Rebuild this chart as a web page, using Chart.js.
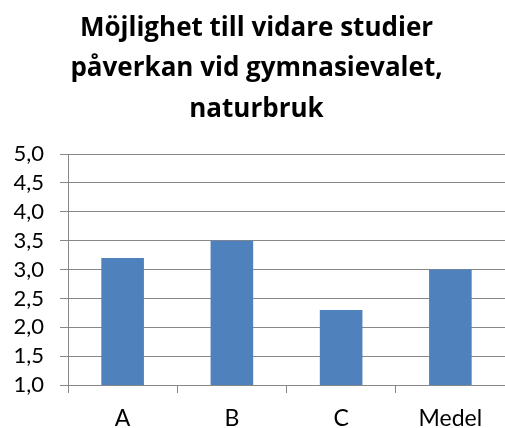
<!DOCTYPE html>
<html lang="sv">
<head>
  <meta charset="UTF-8">
  <title>Möjlighet till vidare studier</title>
  <script src="https://cdn.jsdelivr.net/npm/chart.js"></script>
  <style>
    body { margin: 0; background: #fff; }
    .wrap { width: 505px; height: 428px; }
  </style>
</head>
<body>
  <div class="wrap"><canvas id="chart"></canvas></div>
  <script>
    // data
    const categories = ['A', 'B', 'C', 'Medel'];
    const values = [3.2, 3.5, 2.3, 3.0];
    const titleLines = ['Möjlighet till vidare studier', 'påverkan vid gymnasievalet,', 'naturbruk'];

    const font = 'Lato, "Open Sans", sans-serif';

    new Chart(document.getElementById('chart'), {
      type: 'bar',
      data: {
        labels: categories,
        datasets: [{
          data: values,
          backgroundColor: '#4f81bd',
          barPercentage: 0.39,
          categoryPercentage: 1
        }]
      },
      options: {
        responsive: true,
        maintainAspectRatio: false,
        animation: false,
        layout: { padding: { left: 8, right: 0, top: 9, bottom: 0 } },
        plugins: {
          legend: { display: false },
          tooltip: { enabled: false },
          title: {
            display: true,
            text: titleLines,
            color: '#000',
            font: { family: '"Open Sans", sans-serif', size: 26, weight: 'bold', lineHeight: 1.54 },
            padding: { top: 0, bottom: 25 }
          }
        },
        scales: {
          x: {
            afterFit: s => { s.height = 43; },
            grid: { drawOnChartArea: false, drawTicks: true, tickLength: 8, color: '#878787' },
            border: { color: '#878787', width: 1 },
            ticks: { color: '#000', font: { family: font, size: 23 }, padding: 12 }
          },
          y: {
            min: 1,
            max: 5,
            afterFit: s => { s.width = 60; },
            grid: { color: '#878787', tickLength: 8 },
            border: { color: '#878787' },
            ticks: {
              stepSize: 0.5,
              autoSkip: false,
              color: '#000',
              font: { family: font, size: 22 },
              padding: 16,
              callback: v => v.toFixed(1).replace('.', ',')
            }
          }
        }
      }
    });
  </script>
</body>
</html>
